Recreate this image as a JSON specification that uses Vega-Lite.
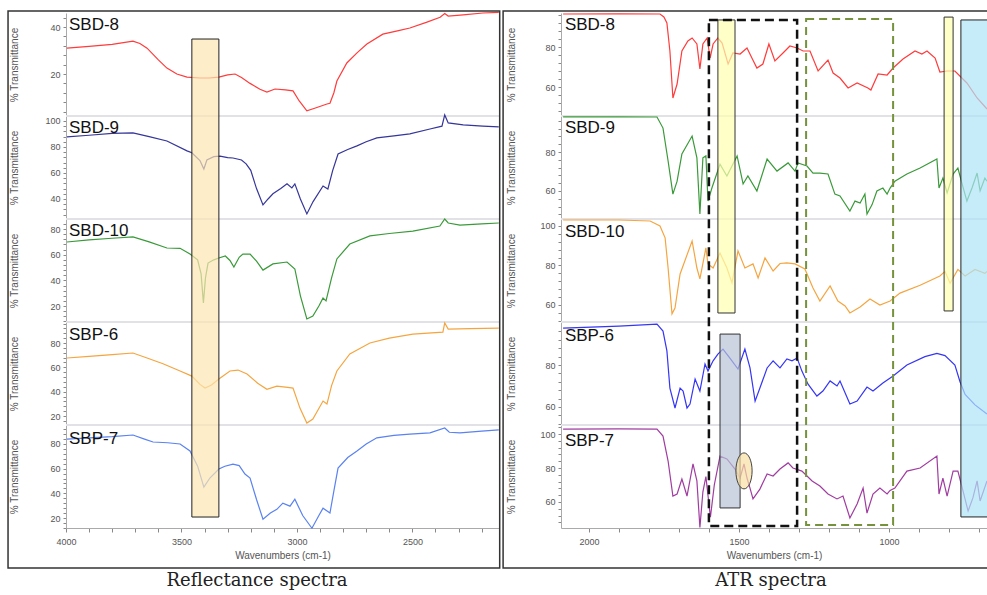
{
"$schema": "https://vega.github.io/schema/vega-lite/v6.json",
"padding": {"left": 7, "top": 9, "right": 0, "bottom": 0},
"config": {"view": {"stroke": null}, "font": "Liberation Sans",
 "axis": {"labelFont": "Liberation Sans", "labelFontSize": 9, "labelColor": "#555", "titleFont": "Liberation Sans", "titleFontSize": 10, "titleColor": "#555", "titleFontWeight": "normal", "domainColor": "#aaa", "tickColor": "#888", "grid": false, "labelOverlap": false, "labelBound": false}},
"datasets": {
"L": [
{"s":"SBD-8","w":3996,"t":31},{"s":"SBD-8","w":3900,"t":31.8},{"s":"SBD-8","w":3800,"t":32.6},{"s":"SBD-8","w":3710,"t":34},{"s":"SBD-8","w":3680,"t":33},{"s":"SBD-8","w":3649,"t":31},{"s":"SBD-8","w":3600,"t":26},{"s":"SBD-8","w":3563,"t":22.5},{"s":"SBD-8","w":3520,"t":20},{"s":"SBD-8","w":3476,"t":18.7},{"s":"SBD-8","w":3420,"t":18.3},{"s":"SBD-8","w":3380,"t":18.3},{"s":"SBD-8","w":3338,"t":18.7},{"s":"SBD-8","w":3300,"t":19.6},{"s":"SBD-8","w":3268,"t":20},{"s":"SBD-8","w":3240,"t":18.5},{"s":"SBD-8","w":3203,"t":16},{"s":"SBD-8","w":3160,"t":13.5},{"s":"SBD-8","w":3130,"t":12.3},{"s":"SBD-8","w":3095,"t":13.6},{"s":"SBD-8","w":3050,"t":13.2},{"s":"SBD-8","w":3017,"t":12.8},{"s":"SBD-8","w":2990,"t":8.5},{"s":"SBD-8","w":2957,"t":4.3},{"s":"SBD-8","w":2920,"t":5.5},{"s":"SBD-8","w":2870,"t":7.2},{"s":"SBD-8","w":2857,"t":7.5},{"s":"SBD-8","w":2840,"t":12},{"s":"SBD-8","w":2827,"t":17},{"s":"SBD-8","w":2784,"t":24.7},{"s":"SBD-8","w":2740,"t":29},{"s":"SBD-8","w":2697,"t":32.8},{"s":"SBD-8","w":2628,"t":37},{"s":"SBD-8","w":2560,"t":38.5},{"s":"SBD-8","w":2511,"t":39.6},{"s":"SBD-8","w":2440,"t":42},{"s":"SBD-8","w":2380,"t":44.2},{"s":"SBD-8","w":2360,"t":45.8},{"s":"SBD-8","w":2345,"t":44.7},{"s":"SBD-8","w":2280,"t":45.2},{"s":"SBD-8","w":2195,"t":46},{"s":"SBD-8","w":2126,"t":46.3},
{"s":"SBD-9","w":3996,"t":87.7},{"s":"SBD-9","w":3900,"t":89},{"s":"SBD-9","w":3800,"t":90.5},{"s":"SBD-9","w":3710,"t":90.8},{"s":"SBD-9","w":3640,"t":88},{"s":"SBD-9","w":3563,"t":84.6},{"s":"SBD-9","w":3476,"t":77},{"s":"SBD-9","w":3455,"t":75.5},{"s":"SBD-9","w":3420,"t":69.5},{"s":"SBD-9","w":3403,"t":63},{"s":"SBD-9","w":3390,"t":70},{"s":"SBD-9","w":3360,"t":72.5},{"s":"SBD-9","w":3333,"t":73},{"s":"SBD-9","w":3300,"t":71.8},{"s":"SBD-9","w":3277,"t":71.5},{"s":"SBD-9","w":3240,"t":70},{"s":"SBD-9","w":3220,"t":67},{"s":"SBD-9","w":3200,"t":62},{"s":"SBD-9","w":3175,"t":48},{"s":"SBD-9","w":3147,"t":35.4},{"s":"SBD-9","w":3125,"t":40},{"s":"SBD-9","w":3104,"t":44},{"s":"SBD-9","w":3070,"t":48},{"s":"SBD-9","w":3043,"t":51.6},{"s":"SBD-9","w":3022,"t":48.5},{"s":"SBD-9","w":3009,"t":51.6},{"s":"SBD-9","w":2985,"t":40},{"s":"SBD-9","w":2957,"t":28.5},{"s":"SBD-9","w":2930,"t":38},{"s":"SBD-9","w":2887,"t":50},{"s":"SBD-9","w":2866,"t":47.7},{"s":"SBD-9","w":2845,"t":62},{"s":"SBD-9","w":2822,"t":74.6},{"s":"SBD-9","w":2780,"t":78},{"s":"SBD-9","w":2740,"t":80.8},{"s":"SBD-9","w":2700,"t":84},{"s":"SBD-9","w":2654,"t":87},{"s":"SBD-9","w":2580,"t":88.5},{"s":"SBD-9","w":2511,"t":90},{"s":"SBD-9","w":2424,"t":93.8},{"s":"SBD-9","w":2372,"t":96},{"s":"SBD-9","w":2360,"t":104.6},{"s":"SBD-9","w":2345,"t":98.5},{"s":"SBD-9","w":2280,"t":97},{"s":"SBD-9","w":2195,"t":96},{"s":"SBD-9","w":2126,"t":95.4},
{"s":"SBD-10","w":3996,"t":69.9},{"s":"SBD-10","w":3900,"t":71.5},{"s":"SBD-10","w":3800,"t":72.8},{"s":"SBD-10","w":3710,"t":73.8},{"s":"SBD-10","w":3640,"t":70},{"s":"SBD-10","w":3563,"t":65.2},{"s":"SBD-10","w":3506,"t":65},{"s":"SBD-10","w":3463,"t":60.5},{"s":"SBD-10","w":3430,"t":56},{"s":"SBD-10","w":3415,"t":45},{"s":"SBD-10","w":3405,"t":22.4},{"s":"SBD-10","w":3396,"t":42},{"s":"SBD-10","w":3385,"t":53.5},{"s":"SBD-10","w":3360,"t":56},{"s":"SBD-10","w":3338,"t":57.4},{"s":"SBD-10","w":3310,"t":59},{"s":"SBD-10","w":3290,"t":55.5},{"s":"SBD-10","w":3273,"t":50.4},{"s":"SBD-10","w":3250,"t":58},{"s":"SBD-10","w":3234,"t":60.5},{"s":"SBD-10","w":3203,"t":60.5},{"s":"SBD-10","w":3175,"t":55},{"s":"SBD-10","w":3147,"t":48},{"s":"SBD-10","w":3104,"t":52.8},{"s":"SBD-10","w":3043,"t":54.3},{"s":"SBD-10","w":3009,"t":48.9},{"s":"SBD-10","w":2985,"t":28},{"s":"SBD-10","w":2957,"t":10},{"s":"SBD-10","w":2931,"t":12.3},{"s":"SBD-10","w":2905,"t":20},{"s":"SBD-10","w":2887,"t":26.3},{"s":"SBD-10","w":2874,"t":24},{"s":"SBD-10","w":2850,"t":42},{"s":"SBD-10","w":2827,"t":56.7},{"s":"SBD-10","w":2771,"t":68.3},{"s":"SBD-10","w":2684,"t":74.6},{"s":"SBD-10","w":2600,"t":76.5},{"s":"SBD-10","w":2498,"t":78.4},{"s":"SBD-10","w":2381,"t":82.3},{"s":"SBD-10","w":2360,"t":87.8},{"s":"SBD-10","w":2345,"t":84.7},{"s":"SBD-10","w":2294,"t":83},{"s":"SBD-10","w":2200,"t":84},{"s":"SBD-10","w":2126,"t":84.7},
{"s":"SBP-6","w":3996,"t":67.7},{"s":"SBP-6","w":3900,"t":69},{"s":"SBP-6","w":3800,"t":70.5},{"s":"SBP-6","w":3710,"t":71.8},{"s":"SBP-6","w":3649,"t":67.7},{"s":"SBP-6","w":3580,"t":63},{"s":"SBP-6","w":3506,"t":57},{"s":"SBP-6","w":3455,"t":52.8},{"s":"SBP-6","w":3420,"t":46},{"s":"SBP-6","w":3398,"t":43},{"s":"SBP-6","w":3370,"t":45.5},{"s":"SBP-6","w":3338,"t":50.4},{"s":"SBP-6","w":3290,"t":57},{"s":"SBP-6","w":3255,"t":57.8},{"s":"SBP-6","w":3216,"t":54.5},{"s":"SBP-6","w":3170,"t":47},{"s":"SBP-6","w":3130,"t":42},{"s":"SBP-6","w":3087,"t":44.6},{"s":"SBP-6","w":3040,"t":43.5},{"s":"SBP-6","w":3017,"t":43},{"s":"SBP-6","w":2987,"t":26.5},{"s":"SBP-6","w":2957,"t":14.2},{"s":"SBP-6","w":2931,"t":17.5},{"s":"SBP-6","w":2887,"t":32.3},{"s":"SBP-6","w":2870,"t":29.8},{"s":"SBP-6","w":2850,"t":45},{"s":"SBP-6","w":2827,"t":57},{"s":"SBP-6","w":2771,"t":71},{"s":"SBP-6","w":2684,"t":80},{"s":"SBP-6","w":2600,"t":84},{"s":"SBP-6","w":2498,"t":87.4},{"s":"SBP-6","w":2368,"t":89},{"s":"SBP-6","w":2360,"t":96.5},{"s":"SBP-6","w":2345,"t":91.5},{"s":"SBP-6","w":2250,"t":91.8},{"s":"SBP-6","w":2126,"t":92.3},
{"s":"SBP-7","w":3996,"t":84},{"s":"SBP-7","w":3900,"t":85},{"s":"SBP-7","w":3800,"t":86},{"s":"SBP-7","w":3710,"t":87.3},{"s":"SBP-7","w":3660,"t":84},{"s":"SBP-7","w":3623,"t":81.6},{"s":"SBP-7","w":3560,"t":81},{"s":"SBP-7","w":3506,"t":80},{"s":"SBP-7","w":3463,"t":74.3},{"s":"SBP-7","w":3430,"t":62},{"s":"SBP-7","w":3403,"t":45},{"s":"SBP-7","w":3377,"t":52.4},{"s":"SBP-7","w":3338,"t":59.7},{"s":"SBP-7","w":3312,"t":62},{"s":"SBP-7","w":3277,"t":63.7},{"s":"SBP-7","w":3250,"t":62.5},{"s":"SBP-7","w":3225,"t":55.6},{"s":"SBP-7","w":3203,"t":52.4},{"s":"SBP-7","w":3175,"t":35},{"s":"SBP-7","w":3147,"t":19},{"s":"SBP-7","w":3115,"t":24},{"s":"SBP-7","w":3087,"t":27},{"s":"SBP-7","w":3061,"t":32},{"s":"SBP-7","w":3030,"t":29.6},{"s":"SBP-7","w":3009,"t":35.3},{"s":"SBP-7","w":2975,"t":22},{"s":"SBP-7","w":2935,"t":11.7},{"s":"SBP-7","w":2905,"t":22},{"s":"SBP-7","w":2887,"t":28},{"s":"SBP-7","w":2857,"t":24},{"s":"SBP-7","w":2840,"t":42},{"s":"SBP-7","w":2822,"t":60.5},{"s":"SBP-7","w":2780,"t":69},{"s":"SBP-7","w":2740,"t":74.3},{"s":"SBP-7","w":2700,"t":80},{"s":"SBP-7","w":2654,"t":85},{"s":"SBP-7","w":2580,"t":87},{"s":"SBP-7","w":2511,"t":88},{"s":"SBP-7","w":2424,"t":89},{"s":"SBP-7","w":2360,"t":93},{"s":"SBP-7","w":2340,"t":89.5},{"s":"SBP-7","w":2294,"t":89},{"s":"SBP-7","w":2200,"t":90.5},{"s":"SBP-7","w":2126,"t":91.4}
],
"R": [
{"s":"SBD-8","w":2086,"t":96.5},{"s":"SBD-8","w":1900,"t":96.6},{"s":"SBD-8","w":1763,"t":96.5},{"s":"SBD-8","w":1750,"t":95},{"s":"SBD-8","w":1740,"t":92},{"s":"SBD-8","w":1730,"t":78},{"s":"SBD-8","w":1720,"t":54.5},{"s":"SBD-8","w":1706,"t":61.5},{"s":"SBD-8","w":1690,"t":78},{"s":"SBD-8","w":1670,"t":83},{"s":"SBD-8","w":1656,"t":84.5},{"s":"SBD-8","w":1640,"t":81.5},{"s":"SBD-8","w":1630,"t":69},{"s":"SBD-8","w":1620,"t":81.5},{"s":"SBD-8","w":1606,"t":84.5},{"s":"SBD-8","w":1596,"t":74.5},{"s":"SBD-8","w":1586,"t":81.5},{"s":"SBD-8","w":1570,"t":84.5},{"s":"SBD-8","w":1556,"t":82},{"s":"SBD-8","w":1536,"t":71.5},{"s":"SBD-8","w":1520,"t":77},{"s":"SBD-8","w":1496,"t":76.5},{"s":"SBD-8","w":1473,"t":79.5},{"s":"SBD-8","w":1455,"t":74},{"s":"SBD-8","w":1440,"t":69.5},{"s":"SBD-8","w":1420,"t":71.5},{"s":"SBD-8","w":1400,"t":81.5},{"s":"SBD-8","w":1380,"t":73},{"s":"SBD-8","w":1353,"t":77},{"s":"SBD-8","w":1330,"t":80.5},{"s":"SBD-8","w":1306,"t":79.5},{"s":"SBD-8","w":1286,"t":78},{"s":"SBD-8","w":1263,"t":78},{"s":"SBD-8","w":1236,"t":68},{"s":"SBD-8","w":1203,"t":73.5},{"s":"SBD-8","w":1186,"t":67},{"s":"SBD-8","w":1163,"t":64.5},{"s":"SBD-8","w":1136,"t":59.5},{"s":"SBD-8","w":1106,"t":62},{"s":"SBD-8","w":1070,"t":59.5},{"s":"SBD-8","w":1060,"t":58.5},{"s":"SBD-8","w":1036,"t":66.5},{"s":"SBD-8","w":1006,"t":66},{"s":"SBD-8","w":986,"t":69.5},{"s":"SBD-8","w":953,"t":74},{"s":"SBD-8","w":913,"t":78},{"s":"SBD-8","w":890,"t":76.5},{"s":"SBD-8","w":873,"t":78},{"s":"SBD-8","w":846,"t":74.5},{"s":"SBD-8","w":830,"t":67.5},{"s":"SBD-8","w":806,"t":68},{"s":"SBD-8","w":780,"t":68},{"s":"SBD-8","w":740,"t":62},{"s":"SBD-8","w":706,"t":54.5},{"s":"SBD-8","w":673,"t":49},
{"s":"SBD-9","w":2086,"t":98},{"s":"SBD-9","w":1900,"t":98.1},{"s":"SBD-9","w":1773,"t":98},{"s":"SBD-9","w":1753,"t":92.3},{"s":"SBD-9","w":1736,"t":75.4},{"s":"SBD-9","w":1720,"t":58.4},{"s":"SBD-9","w":1706,"t":65},{"s":"SBD-9","w":1690,"t":79},{"s":"SBD-9","w":1656,"t":88.2},{"s":"SBD-9","w":1640,"t":77},{"s":"SBD-9","w":1630,"t":48.2},{"s":"SBD-9","w":1620,"t":77},{"s":"SBD-9","w":1610,"t":78},{"s":"SBD-9","w":1603,"t":54.8},{"s":"SBD-9","w":1590,"t":61.5},{"s":"SBD-9","w":1563,"t":73.8},{"s":"SBD-9","w":1540,"t":67.7},{"s":"SBD-9","w":1506,"t":78},{"s":"SBD-9","w":1486,"t":63.6},{"s":"SBD-9","w":1470,"t":67.7},{"s":"SBD-9","w":1440,"t":60},{"s":"SBD-9","w":1406,"t":76.4},{"s":"SBD-9","w":1373,"t":70.2},{"s":"SBD-9","w":1336,"t":74.4},{"s":"SBD-9","w":1313,"t":70.2},{"s":"SBD-9","w":1303,"t":74.4},{"s":"SBD-9","w":1273,"t":72.8},{"s":"SBD-9","w":1253,"t":69.2},{"s":"SBD-9","w":1230,"t":69.2},{"s":"SBD-9","w":1203,"t":68.7},{"s":"SBD-9","w":1180,"t":58.4},{"s":"SBD-9","w":1163,"t":57.4},{"s":"SBD-9","w":1130,"t":49.7},{"s":"SBD-9","w":1113,"t":54.8},{"s":"SBD-9","w":1096,"t":53.8},{"s":"SBD-9","w":1080,"t":58.4},{"s":"SBD-9","w":1073,"t":48.2},{"s":"SBD-9","w":1056,"t":53},{"s":"SBD-9","w":1040,"t":60},{"s":"SBD-9","w":1020,"t":61.5},{"s":"SBD-9","w":1006,"t":58.4},{"s":"SBD-9","w":996,"t":61.5},{"s":"SBD-9","w":980,"t":65},{"s":"SBD-9","w":940,"t":68.7},{"s":"SBD-9","w":896,"t":71.8},{"s":"SBD-9","w":840,"t":76.4},{"s":"SBD-9","w":833,"t":61.5},{"s":"SBD-9","w":820,"t":66.6},{"s":"SBD-9","w":806,"t":59},{"s":"SBD-9","w":786,"t":68.7},{"s":"SBD-9","w":770,"t":71.8},{"s":"SBD-9","w":756,"t":63.6},{"s":"SBD-9","w":740,"t":54.8},{"s":"SBD-9","w":723,"t":61.5},{"s":"SBD-9","w":706,"t":69.2},{"s":"SBD-9","w":696,"t":60},{"s":"SBD-9","w":680,"t":66.6},{"s":"SBD-9","w":673,"t":65},
{"s":"SBD-10","w":2086,"t":103},{"s":"SBD-10","w":1900,"t":103},{"s":"SBD-10","w":1796,"t":102.5},{"s":"SBD-10","w":1763,"t":100},{"s":"SBD-10","w":1746,"t":94},{"s":"SBD-10","w":1736,"t":78.7},{"s":"SBD-10","w":1723,"t":55.5},{"s":"SBD-10","w":1713,"t":58.5},{"s":"SBD-10","w":1696,"t":75.7},{"s":"SBD-10","w":1656,"t":92.4},{"s":"SBD-10","w":1640,"t":78.7},{"s":"SBD-10","w":1630,"t":73.2},{"s":"SBD-10","w":1623,"t":78.7},{"s":"SBD-10","w":1610,"t":88.9},{"s":"SBD-10","w":1603,"t":80.8},{"s":"SBD-10","w":1586,"t":78.7},{"s":"SBD-10","w":1563,"t":86.3},{"s":"SBD-10","w":1540,"t":78.7},{"s":"SBD-10","w":1523,"t":71.2},{"s":"SBD-10","w":1503,"t":87.4},{"s":"SBD-10","w":1480,"t":78.7},{"s":"SBD-10","w":1453,"t":80.8},{"s":"SBD-10","w":1436,"t":73.7},{"s":"SBD-10","w":1413,"t":83.8},{"s":"SBD-10","w":1386,"t":77.2},{"s":"SBD-10","w":1363,"t":81},{"s":"SBD-10","w":1340,"t":81.3},{"s":"SBD-10","w":1313,"t":80.8},{"s":"SBD-10","w":1280,"t":78.2},{"s":"SBD-10","w":1253,"t":68.6},{"s":"SBD-10","w":1230,"t":62},{"s":"SBD-10","w":1196,"t":69.6},{"s":"SBD-10","w":1170,"t":62},{"s":"SBD-10","w":1146,"t":59.5},{"s":"SBD-10","w":1130,"t":56},{"s":"SBD-10","w":1096,"t":59},{"s":"SBD-10","w":1063,"t":63},{"s":"SBD-10","w":1030,"t":60},{"s":"SBD-10","w":996,"t":62},{"s":"SBD-10","w":963,"t":66},{"s":"SBD-10","w":896,"t":70},{"s":"SBD-10","w":830,"t":74.7},{"s":"SBD-10","w":813,"t":77},{"s":"SBD-10","w":796,"t":71},{"s":"SBD-10","w":770,"t":78},{"s":"SBD-10","w":746,"t":74.7},{"s":"SBD-10","w":713,"t":78},{"s":"SBD-10","w":680,"t":76},{"s":"SBD-10","w":673,"t":77},
{"s":"SBP-6","w":2086,"t":97.6},{"s":"SBP-6","w":1900,"t":98.5},{"s":"SBP-6","w":1773,"t":99.5},{"s":"SBP-6","w":1753,"t":96.2},{"s":"SBP-6","w":1740,"t":86.7},{"s":"SBP-6","w":1730,"t":69},{"s":"SBP-6","w":1713,"t":59.5},{"s":"SBP-6","w":1696,"t":69},{"s":"SBP-6","w":1686,"t":67.6},{"s":"SBP-6","w":1673,"t":59.5},{"s":"SBP-6","w":1663,"t":61.4},{"s":"SBP-6","w":1646,"t":73.3},{"s":"SBP-6","w":1630,"t":67.6},{"s":"SBP-6","w":1613,"t":80.5},{"s":"SBP-6","w":1603,"t":77.1},{"s":"SBP-6","w":1586,"t":82},{"s":"SBP-6","w":1570,"t":85.2},{"s":"SBP-6","w":1553,"t":87.6},{"s":"SBP-6","w":1530,"t":83.3},{"s":"SBP-6","w":1503,"t":78.1},{"s":"SBP-6","w":1480,"t":87.6},{"s":"SBP-6","w":1463,"t":78.6},{"s":"SBP-6","w":1446,"t":62.8},{"s":"SBP-6","w":1430,"t":69},{"s":"SBP-6","w":1406,"t":78.6},{"s":"SBP-6","w":1386,"t":82},{"s":"SBP-6","w":1363,"t":78.6},{"s":"SBP-6","w":1340,"t":82.9},{"s":"SBP-6","w":1323,"t":82},{"s":"SBP-6","w":1306,"t":83.3},{"s":"SBP-6","w":1290,"t":77.1},{"s":"SBP-6","w":1270,"t":71},{"s":"SBP-6","w":1240,"t":65.2},{"s":"SBP-6","w":1220,"t":67.6},{"s":"SBP-6","w":1196,"t":72.4},{"s":"SBP-6","w":1173,"t":70},{"s":"SBP-6","w":1163,"t":72.4},{"s":"SBP-6","w":1130,"t":61.4},{"s":"SBP-6","w":1106,"t":62.8},{"s":"SBP-6","w":1073,"t":69.5},{"s":"SBP-6","w":1053,"t":67.6},{"s":"SBP-6","w":1020,"t":71.4},{"s":"SBP-6","w":986,"t":74.8},{"s":"SBP-6","w":940,"t":80},{"s":"SBP-6","w":880,"t":84},{"s":"SBP-6","w":840,"t":85.5},{"s":"SBP-6","w":813,"t":84.5},{"s":"SBP-6","w":780,"t":80},{"s":"SBP-6","w":763,"t":72},{"s":"SBP-6","w":746,"t":66},{"s":"SBP-6","w":713,"t":61},{"s":"SBP-6","w":673,"t":56.6},
{"s":"SBP-7","w":2086,"t":102.9},{"s":"SBP-7","w":1900,"t":103},{"s":"SBP-7","w":1773,"t":102.9},{"s":"SBP-7","w":1753,"t":98.8},{"s":"SBP-7","w":1736,"t":84.1},{"s":"SBP-7","w":1720,"t":63.5},{"s":"SBP-7","w":1706,"t":64.7},{"s":"SBP-7","w":1690,"t":73.5},{"s":"SBP-7","w":1673,"t":63.5},{"s":"SBP-7","w":1653,"t":82.4},{"s":"SBP-7","w":1640,"t":72.4},{"s":"SBP-7","w":1630,"t":45},{"s":"SBP-7","w":1620,"t":66},{"s":"SBP-7","w":1610,"t":75},{"s":"SBP-7","w":1595,"t":51},{"s":"SBP-7","w":1582,"t":70},{"s":"SBP-7","w":1563,"t":87},{"s":"SBP-7","w":1540,"t":85.3},{"s":"SBP-7","w":1513,"t":79.4},{"s":"SBP-7","w":1496,"t":74.1},{"s":"SBP-7","w":1483,"t":82.4},{"s":"SBP-7","w":1473,"t":74.1},{"s":"SBP-7","w":1463,"t":68.2},{"s":"SBP-7","w":1453,"t":61.8},{"s":"SBP-7","w":1430,"t":67.6},{"s":"SBP-7","w":1406,"t":76.5},{"s":"SBP-7","w":1386,"t":75.3},{"s":"SBP-7","w":1363,"t":79.4},{"s":"SBP-7","w":1336,"t":83},{"s":"SBP-7","w":1320,"t":80},{"s":"SBP-7","w":1290,"t":78.2},{"s":"SBP-7","w":1256,"t":72.4},{"s":"SBP-7","w":1230,"t":69.4},{"s":"SBP-7","w":1203,"t":64.7},{"s":"SBP-7","w":1173,"t":61.8},{"s":"SBP-7","w":1153,"t":63.5},{"s":"SBP-7","w":1130,"t":50.6},{"s":"SBP-7","w":1106,"t":58.8},{"s":"SBP-7","w":1086,"t":68.2},{"s":"SBP-7","w":1073,"t":53.5},{"s":"SBP-7","w":1053,"t":64.7},{"s":"SBP-7","w":1030,"t":68.2},{"s":"SBP-7","w":1006,"t":64.7},{"s":"SBP-7","w":996,"t":66.8},{"s":"SBP-7","w":980,"t":68.2},{"s":"SBP-7","w":940,"t":78.2},{"s":"SBP-7","w":896,"t":80},{"s":"SBP-7","w":840,"t":87},{"s":"SBP-7","w":833,"t":64.7},{"s":"SBP-7","w":820,"t":74.1},{"s":"SBP-7","w":806,"t":63.5},{"s":"SBP-7","w":786,"t":78.2},{"s":"SBP-7","w":770,"t":78.2},{"s":"SBP-7","w":753,"t":66.5},{"s":"SBP-7","w":736,"t":54.7},{"s":"SBP-7","w":720,"t":62.4},{"s":"SBP-7","w":706,"t":72.4},{"s":"SBP-7","w":696,"t":60.6},{"s":"SBP-7","w":673,"t":72.4}
]
},
"spacing": 0,
"hconcat": [
{"vconcat": [
 {"width": 433, "height": 103, "layer": [
  {"data": {"name": "L"}, "transform": [{"filter": "datum.s === 'SBD-8'"}], "mark": {"type": "line", "color": "#ff3b3b", "strokeWidth": 1.2},
   "encoding": {"x": {"field": "w", "type": "quantitative", "scale": {"domain": [2125, 4000], "reverse": true, "nice": false, "zero": false}, "axis": null},
    "y": {"field": "t", "type": "quantitative", "scale": {"domain": [2.1, 46], "nice": false, "zero": false}, "axis": {"title": "% Transmittance", "values": [4,8,12,16,20,24,28,32,36,40,44], "tickCount": 200, "labelExpr": "datum.value % 20 === 0 ? datum.label : ''", "labelOverlap": false, "tickSize": 3, "minExtent": 30, "maxExtent": 30, "titlePadding": 17, "labelPadding": 3, "format": "d"}}}},
  {"data": {"values": [{}]}, "mark": {"type": "text", "align": "left", "baseline": "middle", "font": "Liberation Sans", "fontSize": 17, "color": "#111"},
   "encoding": {"x": {"datum": 3987, "type": "quantitative", "scale": {"domain": [2125, 4000], "reverse": true, "nice": false, "zero": false}}, "y": {"datum": 40.9, "type": "quantitative", "scale": {"domain": [2.1, 46], "nice": false, "zero": false}}, "text": {"value": "SBD-8"}}}
 ]},
 {"width": 433, "height": 103, "layer": [
  {"data": {"values": [{}]}, "mark": {"type": "rule", "color": "#e2e2e6", "strokeWidth": 2}, "encoding": {"y": {"datum": 103.8, "type": "quantitative", "scale": {"domain": [24.6, 103.8], "nice": false, "zero": false}}}},
  {"data": {"name": "L"}, "transform": [{"filter": "datum.s === 'SBD-9'"}], "mark": {"type": "line", "color": "#35359a", "strokeWidth": 1.2},
   "encoding": {"x": {"field": "w", "type": "quantitative", "scale": {"domain": [2125, 4000], "reverse": true, "nice": false, "zero": false}, "axis": null},
    "y": {"field": "t", "type": "quantitative", "scale": {"domain": [24.6, 103.8], "nice": false, "zero": false}, "axis": {"title": "% Transmittance", "values": [28,32,36,40,44,48,52,56,60,64,68,72,76,80,84,88,92,96,100], "tickCount": 200, "labelExpr": "datum.value % 20 === 0 ? datum.label : ''", "labelOverlap": false, "tickSize": 3, "minExtent": 30, "maxExtent": 30, "titlePadding": 17, "labelPadding": 3, "format": "d"}}}},
  {"data": {"values": [{}]}, "mark": {"type": "text", "align": "left", "baseline": "middle", "font": "Liberation Sans", "fontSize": 17, "color": "#111"},
   "encoding": {"x": {"datum": 3987, "type": "quantitative", "scale": {"domain": [2125, 4000], "reverse": true, "nice": false, "zero": false}}, "y": {"datum": 94.6, "type": "quantitative", "scale": {"domain": [24.6, 103.8], "nice": false, "zero": false}}, "text": {"value": "SBD-9"}}}
 ]},
 {"width": 433, "height": 103, "layer": [
  {"data": {"values": [{}]}, "mark": {"type": "rule", "color": "#e2e2e6", "strokeWidth": 2}, "encoding": {"y": {"datum": 87.8, "type": "quantitative", "scale": {"domain": [7.6, 87.8], "nice": false, "zero": false}}}},
  {"data": {"name": "L"}, "transform": [{"filter": "datum.s === 'SBD-10'"}], "mark": {"type": "line", "color": "#3a9a3a", "strokeWidth": 1.2},
   "encoding": {"x": {"field": "w", "type": "quantitative", "scale": {"domain": [2125, 4000], "reverse": true, "nice": false, "zero": false}, "axis": null},
    "y": {"field": "t", "type": "quantitative", "scale": {"domain": [7.6, 87.8], "nice": false, "zero": false}, "axis": {"title": "% Transmittance", "values": [8,12,16,20,24,28,32,36,40,44,48,52,56,60,64,68,72,76,80,84], "tickCount": 200, "labelExpr": "datum.value % 20 === 0 ? datum.label : ''", "labelOverlap": false, "tickSize": 3, "minExtent": 30, "maxExtent": 30, "titlePadding": 17, "labelPadding": 3, "format": "d"}}}},
  {"data": {"values": [{}]}, "mark": {"type": "text", "align": "left", "baseline": "middle", "font": "Liberation Sans", "fontSize": 17, "color": "#111"},
   "encoding": {"x": {"datum": 3987, "type": "quantitative", "scale": {"domain": [2125, 4000], "reverse": true, "nice": false, "zero": false}}, "y": {"datum": 78.5, "type": "quantitative", "scale": {"domain": [7.6, 87.8], "nice": false, "zero": false}}, "text": {"value": "SBD-10"}}}
 ]},
 {"width": 433, "height": 103, "layer": [
  {"data": {"values": [{}]}, "mark": {"type": "rule", "color": "#e2e2e6", "strokeWidth": 2}, "encoding": {"y": {"datum": 97.3, "type": "quantitative", "scale": {"domain": [12.6, 97.3], "nice": false, "zero": false}}}},
  {"data": {"name": "L"}, "transform": [{"filter": "datum.s === 'SBP-6'"}], "mark": {"type": "line", "color": "#f5a540", "strokeWidth": 1.2},
   "encoding": {"x": {"field": "w", "type": "quantitative", "scale": {"domain": [2125, 4000], "reverse": true, "nice": false, "zero": false}, "axis": null},
    "y": {"field": "t", "type": "quantitative", "scale": {"domain": [12.6, 97.3], "nice": false, "zero": false}, "axis": {"title": "% Transmittance", "values": [16,20,24,28,32,36,40,44,48,52,56,60,64,68,72,76,80,84,88,92,96], "tickCount": 200, "labelExpr": "datum.value % 20 === 0 ? datum.label : ''", "labelOverlap": false, "tickSize": 3, "minExtent": 30, "maxExtent": 30, "titlePadding": 17, "labelPadding": 3, "format": "d"}}}},
  {"data": {"values": [{}]}, "mark": {"type": "text", "align": "left", "baseline": "middle", "font": "Liberation Sans", "fontSize": 17, "color": "#111"},
   "encoding": {"x": {"datum": 3987, "type": "quantitative", "scale": {"domain": [2125, 4000], "reverse": true, "nice": false, "zero": false}}, "y": {"datum": 86.8, "type": "quantitative", "scale": {"domain": [12.6, 97.3], "nice": false, "zero": false}}, "text": {"value": "SBP-6"}}}
 ]},
 {"width": 433, "height": 103, "layer": [
  {"data": {"values": [{}]}, "mark": {"type": "rule", "color": "#e2e2e6", "strokeWidth": 2}, "encoding": {"y": {"datum": 95.4, "type": "quantitative", "scale": {"domain": [11.9, 95.4], "nice": false, "zero": false}}}},
  {"data": {"name": "L"}, "transform": [{"filter": "datum.s === 'SBP-7'"}], "mark": {"type": "line", "color": "#5a82f0", "strokeWidth": 1.2},
   "encoding": {"x": {"field": "w", "type": "quantitative", "scale": {"domain": [2125, 4000], "reverse": true, "nice": false, "zero": false}, "axis": {"title": "Wavenumbers (cm-1)", "values": [4000,3900,3800,3700,3600,3500,3400,3300,3200,3100,3000,2900,2800,2700,2600,2500,2400,2300,2200], "tickCount": 200, "labelExpr": "datum.value % 500 === 0 ? datum.label : ''", "labelOverlap": false, "tickSize": 4, "labelFlush": false, "labelPadding": 5, "titlePadding": 4, "format": "d"}},
    "y": {"field": "t", "type": "quantitative", "scale": {"domain": [11.9, 95.4], "nice": false, "zero": false}, "axis": {"title": "% Transmittance", "values": [12,16,20,24,28,32,36,40,44,48,52,56,60,64,68,72,76,80,84,88,92], "tickCount": 200, "labelExpr": "datum.value % 20 === 0 ? datum.label : ''", "labelOverlap": false, "tickSize": 3, "minExtent": 30, "maxExtent": 30, "titlePadding": 17, "labelPadding": 3, "format": "d"}}}},
  {"data": {"values": [{}]}, "mark": {"type": "text", "align": "left", "baseline": "middle", "font": "Liberation Sans", "fontSize": 17, "color": "#111"},
   "encoding": {"x": {"datum": 3987, "type": "quantitative", "scale": {"domain": [2125, 4000], "reverse": true, "nice": false, "zero": false}}, "y": {"datum": 84, "type": "quantitative", "scale": {"domain": [11.9, 95.4], "nice": false, "zero": false}}, "text": {"value": "SBP-7"}}},
  {"data": {"values": [{}]}, "mark": {"type": "rect", "fill": "#fce5b0", "fillOpacity": 0.7, "stroke": "#222", "strokeWidth": 1},
   "encoding": {"x": {"datum": 3455, "type": "quantitative", "scale": {"domain": [2125, 4000], "reverse": true, "nice": false, "zero": false}}, "x2": {"datum": 3338}, "y": {"datum": 408.3, "type": "quantitative", "scale": {"domain": [11.9, 95.4], "nice": false, "zero": false}}, "y2": {"datum": 20.8}}},
  {"data": {"values": [{}]}, "mark": {"type": "rect", "fill": null, "stroke": "#333", "strokeWidth": 1.5},
   "encoding": {"x": {"datum": 4251, "type": "quantitative", "scale": {"domain": [2125, 4000], "reverse": true, "nice": false, "zero": false}}, "x2": {"datum": 2122}, "y": {"datum": 431, "type": "quantitative", "scale": {"domain": [11.9, 95.4], "nice": false, "zero": false}}, "y2": {"datum": -20.5}}},
  {"data": {"values": [{}]}, "mark": {"type": "text", "align": "center", "baseline": "middle", "font": "DejaVu Serif", "fontSize": 18, "color": "#222"},
   "encoding": {"x": {"datum": 3173, "type": "quantitative", "scale": {"domain": [2125, 4000], "reverse": true, "nice": false, "zero": false}}, "y": {"datum": -31.1, "type": "quantitative", "scale": {"domain": [11.9, 95.4], "nice": false, "zero": false}}, "text": {"value": "Reflectance spectra"}}}
 ]}
], "spacing": 0, "bounds": "flush", "resolve": {"scale": {"x": "independent", "y": "independent"}}},
{"vconcat": [
 {"width": 426, "height": 103, "layer": [
  {"data": {"name": "R"}, "transform": [{"filter": "datum.s === 'SBD-8'"}], "mark": {"type": "line", "color": "#ff3b3b", "strokeWidth": 1.2},
   "encoding": {"x": {"field": "w", "type": "quantitative", "scale": {"domain": [673, 2093], "reverse": true, "nice": false, "zero": false}, "axis": null},
    "y": {"field": "t", "type": "quantitative", "scale": {"domain": [45.5, 97], "nice": false, "zero": false}, "axis": {"title": "% Transmittance", "values": [48,52,56,60,64,68,72,76,80,84,88,92,96], "tickCount": 200, "labelExpr": "datum.value % 20 === 0 ? datum.label : ''", "labelOverlap": false, "tickSize": 3, "minExtent": 30, "maxExtent": 30, "titlePadding": 15, "labelPadding": 3, "format": "d"}}}},
  {"data": {"values": [{}]}, "mark": {"type": "text", "align": "left", "baseline": "middle", "font": "Liberation Sans", "fontSize": 17, "color": "#111"},
   "encoding": {"x": {"datum": 2080, "type": "quantitative", "scale": {"domain": [673, 2093], "reverse": true, "nice": false, "zero": false}}, "y": {"datum": 91, "type": "quantitative", "scale": {"domain": [45.5, 97], "nice": false, "zero": false}}, "text": {"value": "SBD-8"}}}
 ]},
 {"width": 426, "height": 103, "layer": [
  {"data": {"values": [{}]}, "mark": {"type": "rule", "color": "#e2e2e6", "strokeWidth": 2}, "encoding": {"y": {"datum": 98.5, "type": "quantitative", "scale": {"domain": [45.6, 98.5], "nice": false, "zero": false}}}},
  {"data": {"name": "R"}, "transform": [{"filter": "datum.s === 'SBD-9'"}], "mark": {"type": "line", "color": "#3a9a3a", "strokeWidth": 1.2},
   "encoding": {"x": {"field": "w", "type": "quantitative", "scale": {"domain": [673, 2093], "reverse": true, "nice": false, "zero": false}, "axis": null},
    "y": {"field": "t", "type": "quantitative", "scale": {"domain": [45.6, 98.5], "nice": false, "zero": false}, "axis": {"title": "% Transmittance", "values": [48,52,56,60,64,68,72,76,80,84,88,92,96], "tickCount": 200, "labelExpr": "datum.value % 20 === 0 ? datum.label : ''", "labelOverlap": false, "tickSize": 3, "minExtent": 30, "maxExtent": 30, "titlePadding": 15, "labelPadding": 3, "format": "d"}}}},
  {"data": {"values": [{}]}, "mark": {"type": "text", "align": "left", "baseline": "middle", "font": "Liberation Sans", "fontSize": 17, "color": "#111"},
   "encoding": {"x": {"datum": 2080, "type": "quantitative", "scale": {"domain": [673, 2093], "reverse": true, "nice": false, "zero": false}}, "y": {"datum": 92.3, "type": "quantitative", "scale": {"domain": [45.6, 98.5], "nice": false, "zero": false}}, "text": {"value": "SBD-9"}}}
 ]},
 {"width": 426, "height": 103, "layer": [
  {"data": {"values": [{}]}, "mark": {"type": "rule", "color": "#e2e2e6", "strokeWidth": 2}, "encoding": {"y": {"datum": 103.5, "type": "quantitative", "scale": {"domain": [51.4, 103.5], "nice": false, "zero": false}}}},
  {"data": {"name": "R"}, "transform": [{"filter": "datum.s === 'SBD-10'"}], "mark": {"type": "line", "color": "#f5a540", "strokeWidth": 1.2},
   "encoding": {"x": {"field": "w", "type": "quantitative", "scale": {"domain": [673, 2093], "reverse": true, "nice": false, "zero": false}, "axis": null},
    "y": {"field": "t", "type": "quantitative", "scale": {"domain": [51.4, 103.5], "nice": false, "zero": false}, "axis": {"title": "% Transmittance", "values": [52,56,60,64,68,72,76,80,84,88,92,96,100], "tickCount": 200, "labelExpr": "datum.value % 20 === 0 ? datum.label : ''", "labelOverlap": false, "tickSize": 3, "minExtent": 30, "maxExtent": 30, "titlePadding": 15, "labelPadding": 3, "format": "d"}}}},
  {"data": {"values": [{}]}, "mark": {"type": "text", "align": "left", "baseline": "middle", "font": "Liberation Sans", "fontSize": 17, "color": "#111"},
   "encoding": {"x": {"datum": 2080, "type": "quantitative", "scale": {"domain": [673, 2093], "reverse": true, "nice": false, "zero": false}}, "y": {"datum": 96.9, "type": "quantitative", "scale": {"domain": [51.4, 103.5], "nice": false, "zero": false}}, "text": {"value": "SBD-10"}}}
 ]},
 {"width": 426, "height": 103, "layer": [
  {"data": {"values": [{}]}, "mark": {"type": "rule", "color": "#e2e2e6", "strokeWidth": 2}, "encoding": {"y": {"datum": 100.5, "type": "quantitative", "scale": {"domain": [51.4, 100.5], "nice": false, "zero": false}}}},
  {"data": {"name": "R"}, "transform": [{"filter": "datum.s === 'SBP-6'"}], "mark": {"type": "line", "color": "#3535f5", "strokeWidth": 1.2},
   "encoding": {"x": {"field": "w", "type": "quantitative", "scale": {"domain": [673, 2093], "reverse": true, "nice": false, "zero": false}, "axis": null},
    "y": {"field": "t", "type": "quantitative", "scale": {"domain": [51.4, 100.5], "nice": false, "zero": false}, "axis": {"title": "% Transmittance", "values": [52,56,60,64,68,72,76,80,84,88,92,96], "tickCount": 200, "labelExpr": "datum.value % 20 === 0 ? datum.label : ''", "labelOverlap": false, "tickSize": 3, "minExtent": 30, "maxExtent": 30, "titlePadding": 15, "labelPadding": 3, "format": "d"}}}},
  {"data": {"values": [{}]}, "mark": {"type": "text", "align": "left", "baseline": "middle", "font": "Liberation Sans", "fontSize": 17, "color": "#111"},
   "encoding": {"x": {"datum": 2080, "type": "quantitative", "scale": {"domain": [673, 2093], "reverse": true, "nice": false, "zero": false}}, "y": {"datum": 93.8, "type": "quantitative", "scale": {"domain": [51.4, 100.5], "nice": false, "zero": false}}, "text": {"value": "SBP-6"}}}
 ]},
 {"width": 426, "height": 103, "layer": [
  {"data": {"values": [{}]}, "mark": {"type": "rule", "color": "#e2e2e6", "strokeWidth": 2}, "encoding": {"y": {"datum": 105.3, "type": "quantitative", "scale": {"domain": [44.7, 105.3], "nice": false, "zero": false}}}},
  {"data": {"name": "R"}, "transform": [{"filter": "datum.s === 'SBP-7'"}], "mark": {"type": "line", "color": "#a03ca0", "strokeWidth": 1.2},
   "encoding": {"x": {"field": "w", "type": "quantitative", "scale": {"domain": [673, 2093], "reverse": true, "nice": false, "zero": false}, "axis": {"title": "Wavenumbers (cm-1)", "values": [2000,1900,1800,1700,1600,1500,1400,1300,1200,1100,1000,900,800,700], "tickCount": 200, "labelExpr": "datum.value % 500 === 0 ? datum.label : ''", "labelOverlap": false, "tickSize": 4, "labelFlush": false, "labelPadding": 5, "titlePadding": 4, "format": "d"}},
    "y": {"field": "t", "type": "quantitative", "scale": {"domain": [44.7, 105.3], "nice": false, "zero": false}, "axis": {"title": "% Transmittance", "values": [48,52,56,60,64,68,72,76,80,84,88,92,96,100,104], "tickCount": 200, "labelExpr": "datum.value % 20 === 0 ? datum.label : ''", "labelOverlap": false, "tickSize": 3, "minExtent": 30, "maxExtent": 30, "titlePadding": 15, "labelPadding": 3, "format": "d"}}}},
  {"data": {"values": [{}]}, "mark": {"type": "text", "align": "left", "baseline": "middle", "font": "Liberation Sans", "fontSize": 17, "color": "#111"},
   "encoding": {"x": {"datum": 2080, "type": "quantitative", "scale": {"domain": [673, 2093], "reverse": true, "nice": false, "zero": false}}, "y": {"datum": 95.9, "type": "quantitative", "scale": {"domain": [44.7, 105.3], "nice": false, "zero": false}}, "text": {"value": "SBP-7"}}},
  {"data": {"values": [{}]}, "mark": {"type": "rect", "fill": "#ffffb0", "fillOpacity": 0.7, "stroke": "#333", "strokeWidth": 1},
   "encoding": {"x": {"datum": 1570, "type": "quantitative", "scale": {"domain": [673, 2093], "reverse": true, "nice": false, "zero": false}}, "x2": {"datum": 1513}, "y": {"datum": 343.6, "type": "quantitative", "scale": {"domain": [44.7, 105.3], "nice": false, "zero": false}}, "y2": {"datum": 171.2}}},
  {"data": {"values": [{}]}, "mark": {"type": "rect", "fill": "#ffffb0", "fillOpacity": 0.7, "stroke": "#333", "strokeWidth": 1},
   "encoding": {"x": {"datum": 816, "type": "quantitative", "scale": {"domain": [673, 2093], "reverse": true, "nice": false, "zero": false}}, "x2": {"datum": 786}, "y": {"datum": 345.3, "type": "quantitative", "scale": {"domain": [44.7, 105.3], "nice": false, "zero": false}}, "y2": {"datum": 172.4}}},
  {"data": {"values": [{}]}, "mark": {"type": "rect", "fill": "#aee4f8", "fillOpacity": 0.7, "stroke": "#222", "strokeWidth": 1},
   "encoding": {"x": {"datum": 760, "type": "quantitative", "scale": {"domain": [673, 2093], "reverse": true, "nice": false, "zero": false}}, "x2": {"datum": 560}, "y": {"datum": 343.6, "type": "quantitative", "scale": {"domain": [44.7, 105.3], "nice": false, "zero": false}}, "y2": {"datum": 51.2}}},
  {"data": {"values": [{}]}, "mark": {"type": "rect", "fill": "#b7c3d4", "fillOpacity": 0.7, "stroke": "#333", "strokeWidth": 1},
   "encoding": {"x": {"datum": 1563, "type": "quantitative", "scale": {"domain": [673, 2093], "reverse": true, "nice": false, "zero": false}}, "x2": {"datum": 1496}, "y": {"datum": 158.8, "type": "quantitative", "scale": {"domain": [44.7, 105.3], "nice": false, "zero": false}}, "y2": {"datum": 56.5}}},
  {"data": {"values": [{}]}, "mark": {"type": "point", "shape": "M 0 -1 A 0.45 1 0 1 1 0 1 A 0.45 1 0 1 1 0 -1 Z", "size": 1296, "filled": true, "fill": "#f8dea2", "fillOpacity": 0.7, "opacity": 1, "stroke": "#444", "strokeWidth": 1},
   "encoding": {"x": {"datum": 1483, "type": "quantitative", "scale": {"domain": [673, 2093], "reverse": true, "nice": false, "zero": false}}, "y": {"datum": 78.3, "type": "quantitative", "scale": {"domain": [44.7, 105.3], "nice": false, "zero": false}}}},
  {"data": {"values": [{}]}, "mark": {"type": "rect", "fill": null, "stroke": "#111", "strokeWidth": 2.5, "strokeDash": [9, 5]},
   "encoding": {"x": {"datum": 1600, "type": "quantitative", "scale": {"domain": [673, 2093], "reverse": true, "nice": false, "zero": false}}, "x2": {"datum": 1306}, "y": {"datum": 343.6, "type": "quantitative", "scale": {"domain": [44.7, 105.3], "nice": false, "zero": false}}, "y2": {"datum": 45.9}}},
  {"data": {"values": [{}]}, "mark": {"type": "rect", "fill": null, "stroke": "#76923c", "strokeWidth": 2, "strokeDash": [8, 5]},
   "encoding": {"x": {"datum": 1276, "type": "quantitative", "scale": {"domain": [673, 2093], "reverse": true, "nice": false, "zero": false}}, "x2": {"datum": 986}, "y": {"datum": 344.2, "type": "quantitative", "scale": {"domain": [44.7, 105.3], "nice": false, "zero": false}}, "y2": {"datum": 46.5}}},
  {"data": {"values": [{}]}, "mark": {"type": "rect", "fill": null, "stroke": "#333", "strokeWidth": 1.5},
   "encoding": {"x": {"datum": 2286, "type": "quantitative", "scale": {"domain": [673, 2093], "reverse": true, "nice": false, "zero": false}}, "x2": {"datum": 500}, "y": {"datum": 348.9, "type": "quantitative", "scale": {"domain": [44.7, 105.3], "nice": false, "zero": false}}, "y2": {"datum": 21.2}}},
  {"data": {"values": [{}]}, "mark": {"type": "text", "align": "center", "baseline": "middle", "font": "DejaVu Serif", "fontSize": 18, "color": "#222"},
   "encoding": {"x": {"datum": 1393, "type": "quantitative", "scale": {"domain": [673, 2093], "reverse": true, "nice": false, "zero": false}}, "y": {"datum": 13.5, "type": "quantitative", "scale": {"domain": [44.7, 105.3], "nice": false, "zero": false}}, "text": {"value": "ATR spectra"}}}
 ]}
], "spacing": 0, "bounds": "flush", "resolve": {"scale": {"x": "independent", "y": "independent"}}}
]
}
